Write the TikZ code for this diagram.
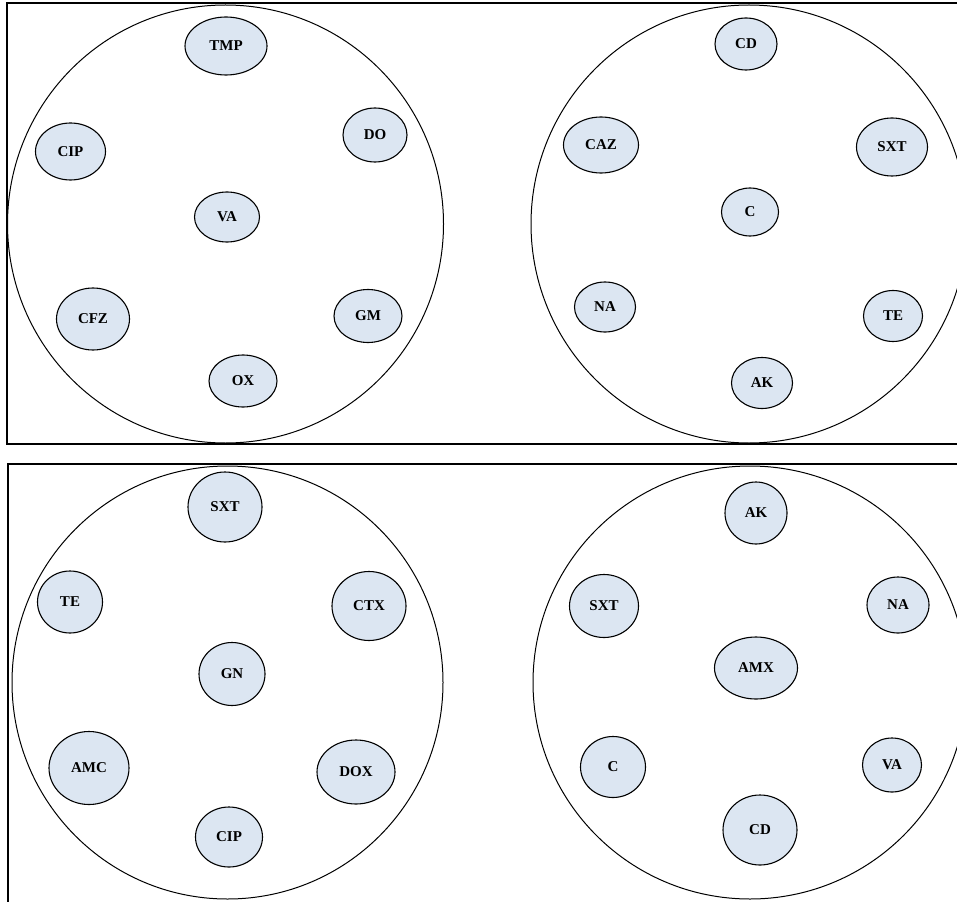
\documentclass[tikz,border=0pt]{standalone}
\usepackage{fontspec}
\setmainfont{Liberation Serif}
\usetikzlibrary{shapes.geometric}
\definecolor{drugblue}{RGB}{220,230,242}

\begin{document}
\begin{tikzpicture}[x=1pt, y=-1pt,
    drug/.style={ellipse, draw, line width=1.1pt, fill=drugblue, inner sep=0pt,
        font=\fontsize{15}{15}\selectfont\bfseries},
    group/.style={ellipse, draw, line width=1pt, inner sep=0pt}]
    \useasboundingbox (0,0) rectangle (957,901);
    \clip (0,0) rectangle (957,901);
    % Frames
    \draw[line width=1.6pt] (7,3) rectangle (980,444);
    \draw[line width=1.6pt] (8,464) rectangle (980,920);
    % Big circles
    \node[group, minimum width=436pt, minimum height=438pt] (groupA) at (225.5,224) {};
    \node[group, minimum width=436pt, minimum height=438pt] (groupB) at (749,224) {};
    \node[group, minimum width=431pt, minimum height=433pt] (groupC) at (227.5,682.5) {};
    \node[group, minimum width=434pt, minimum height=433pt] (groupD) at (750,682.5) {};
    % Top left group
    \foreach \lab/\x/\y/\w/\h in {TMP/226/46/82/58, CIP/70.5/151.5/70/57, DO/375/135/64/54,
        VA/227/217/65/50, CFZ/93/319/73/62, GM/368/316/68/53, OX/243/381/68/52} {
        \node[drug, minimum width=\w pt, minimum height=\h pt] (a\lab) at (\x,\y) {\lab};
    }
    % Top right group
    \foreach \lab/\x/\y/\w/\h in {CD/746/44/62/52, CAZ/601/145/75/56, SXT/892/147/71/58,
        C/750/212/57/48, NA/605/307/61/50, TE/893/316/59/51, AK/762/383/61/51} {
        \node[drug, minimum width=\w pt, minimum height=\h pt] (b\lab) at (\x,\y) {\lab};
    }
    % Bottom left group
    \foreach \lab/\x/\y/\w/\h in {SXT/225/507/74/70, TE/70/602/65/62, CTX/369/606/74/69,
        GN/232/674/66/63, AMC/89/768/80/73, DOX/356/772/78/64, CIP/229/837/67/60} {
        \node[drug, minimum width=\w pt, minimum height=\h pt] (c\lab) at (\x,\y) {\lab};
    }
    % Bottom right group
    \foreach \lab/\x/\y/\w/\h in {AK/756/513/62/62, SXT/604/606/69/63, NA/898/605/62/56,
        AMX/756/668/83/62, C/613/767/65/61, VA/892/765/59/54, CD/760/830/74/70} {
        \node[drug, minimum width=\w pt, minimum height=\h pt] (d\lab) at (\x,\y) {\lab};
    }
\end{tikzpicture}
\end{document}
